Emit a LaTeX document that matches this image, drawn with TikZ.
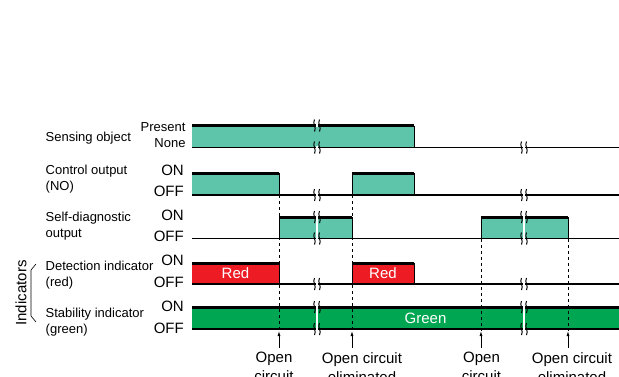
\documentclass[tikz,border=0pt]{standalone}
\usepackage{fontspec}
\setmainfont{Liberation Sans}
\usepackage{tikz}
\usetikzlibrary{arrows.meta}
\usepackage{xcolor}
\definecolor{sigteal}{RGB}{94,196,170}
\definecolor{ledred}{RGB}{237,28,36}
\definecolor{ledgreen}{RGB}{0,166,81}

\begin{document}
\begin{tikzpicture}[
    x=1pt, y=-1pt,
    lbl/.style={anchor=west, align=left, inner sep=0pt, font=\fontsize{13}{16}\selectfont},
    stt/.style={anchor=east, inner sep=0pt, font=\fontsize{13}{16}\selectfont},
    lvl/.style={anchor=east, inner sep=0pt, font=\fontsize{15}{18}\selectfont},
    evt/.style={anchor=north, align=center, inner sep=0pt, font=\fontsize{15}{19}\selectfont},
    bartxt/.style={text=white, inner sep=0pt, font=\fontsize{15}{17}\selectfont},
    hi/.style={line width=3pt},
    base/.style={line width=1.1pt},
    edge/.style={line width=0.8pt},
    marker/.style={line width=0.7pt, dash pattern=on 3pt off 3pt},
    brk/.pic={
        \draw[line width=1pt] (-2.5,-6) .. controls (-5,-2) and (0,2) .. (-2.5,6);
        \draw[line width=1pt] (2.5,-6) .. controls (0,-2) and (5,2) .. (2.5,6);
    }
]
    \useasboundingbox (0,0) rectangle (619,376);
    \clip (0,0) rectangle (619,376);

    % Pulses
    \foreach \xa/\xb/\ya/\yb/\col in {192/414/125.5/147.5/sigteal, 192/279/173/195/sigteal,
        352/414/173/195/sigteal, 279/352/217/238.5/sigteal, 481/568/217/238.5/sigteal,
        192/279/263/284/ledred, 352/414/263/284/ledred, 192/619/307/329/ledgreen} {
        \fill[\col] (\xa,\ya) rectangle (\xb,\yb);
        \draw[hi] (\xa,\ya) -- (\xb,\ya);
    }
    \foreach \x/\ya/\yb in {414/125.5/147.5, 279/173/195, 352/173/195, 414/173/195,
        279/217/238.5, 352/217/238.5, 481/217/238.5, 568/217/238.5,
        279/263/284, 352/263/284, 414/263/284}
        \draw[edge] (\x,\ya) -- (\x,\yb);

    % Low levels
    \foreach \y in {147.5,195,238.5,284,329}
        \draw[base] (192,\y) -- (619,\y);

    % Breaks
    \foreach \x/\y in {317/125.5, 317/147.5, 524/147.5, 317/195, 524/195, 317/284, 524/284}
        \fill[white] (\x-1.2,\y-1.8) rectangle (\x+1.2,\y+1.8);
    \foreach \x/\ya/\yb in {317/217/238.5, 524/217/238.5, 317/307/329, 524/307/329}
        \fill[white] (\x-1,\ya-2) rectangle (\x+1,\yb+2);
    \foreach \x/\y in {317/125.5, 317/147.5, 524/147.5, 317/195, 524/195, 317/284, 524/284,
        317/217, 317/238.5, 524/217, 524/238.5, 317/307, 317/329, 524/307, 524/329}
        \pic at (\x,\y) {brk};

    % Labels
    \node[lbl] (sens) at (45.5,138) {Sensing object};
    \node[lbl] (ctrl) at (45.5,178.7) {Control output\\(NO)};
    \node[lbl] (diag) at (45.5,226) {Self-diagnostic\\output};
    \node[lbl] (det) at (45.5,274.7) {Detection indicator\\(red)};
    \node[lbl] (stab) at (45.5,322) {Stability indicator\\(green)};

    \node[stt] (pres) at (185.7,127) {Present};
    \node[stt] (none) at (185.7,143) {None};
    \node[lvl] (ctrlon) at (184,170) {ON};
    \node[lvl] (ctrloff) at (184,191.7) {OFF};
    \node[lvl] (diagon) at (184,215) {ON};
    \node[lvl] (diagoff) at (184,236.7) {OFF};
    \node[lvl] (deton) at (184,260.7) {ON};
    \node[lvl] (detoff) at (184,282.7) {OFF};
    \node[lvl] (stabon) at (184,306) {ON};
    \node[lvl] (staboff) at (184,328.3) {OFF};

    \node[rotate=90, inner sep=0pt, font=\fontsize{15}{17}\selectfont] (ind) at (21,293) {Indicators};
    \draw[line width=0.6pt] (36,264) -- (31,270) -- (31,316) -- (36,322);

    \node[bartxt] (red1) at (235.5,273.5) {Red};
    \node[bartxt] (red2) at (383,273.5) {Red};
    \node[bartxt] (grn) at (425.5,318) {Green};

    % Events
    \node[evt] (oc1) at (274,352) {Open\\circuit};
    \node[evt] (oe1) at (362,352) {Open circuit\\eliminated};
    \node[evt] (oc2) at (481.5,352) {Open\\circuit};
    \node[evt] (oe2) at (572,352) {Open circuit\\eliminated};

    \foreach \x/\ys [count=\i] in {279/195, 352/195, 481/238.5, 568/238.5} {
        \coordinate (tip\i) at (\x,331);
        \coordinate (foot\i) at (\x,348);
        \draw[marker] (\x,\ys) -- (tip\i);
        \draw[edge, -{Latex[length=5pt,width=3pt]}] (foot\i) -- (tip\i);
    }
\end{tikzpicture}
\end{document}
